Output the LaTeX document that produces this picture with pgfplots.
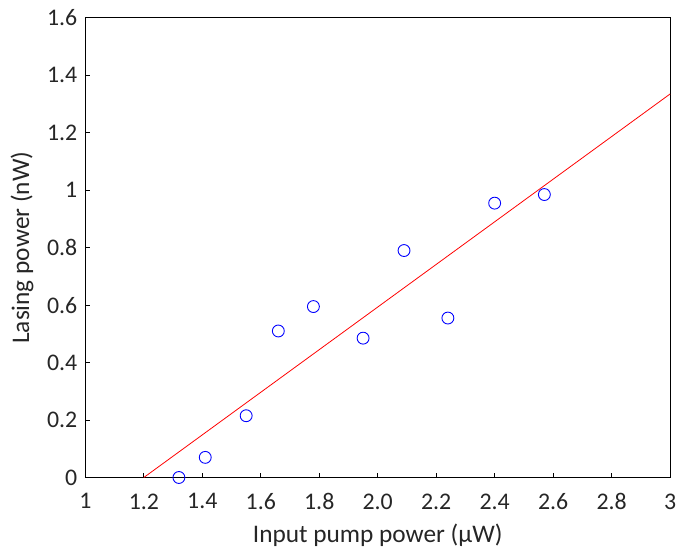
\documentclass[border=0pt]{standalone}
\usepackage{pgfplots}
\pgfplotsset{compat=1.18}
\usepackage{fontspec}
\setmainfont{Carlito}
\begin{document}
\begin{tikzpicture}
\useasboundingbox (-86bp,-77bp) rectangle (598bp,481bp);
\begin{axis}[
  at={(0,0)}, anchor=south west,
  width=589bp, height=463bp, scale only axis,
  xmin=1, xmax=3, ymin=0, ymax=1.6,
  xtick={1,1.2,1.4,1.6,1.8,2,2.2,2.4,2.6,2.8,3},
  xticklabels={1,1.2,1.4,1.6,1.8,2.0,2.2,2.4,2.6,2.8,3},
  ytick={0,0.2,0.4,0.6,0.8,1,1.2,1.4,1.6},
  yticklabels={0,0.2,0.4,0.6,0.8,1,1.2,1.4,1.6},
  tick align=inside, tick pos=left,
  major tick length=5bp,
  axis line style={line width=1pt},
  tick style={black, line width=0.8pt},
  xlabel={Input pump power (μW)},
  ylabel={Lasing power (nW)},
  every tick label/.append style={font=\fontsize{24bp}{28bp}\selectfont, text=black!85, inner sep=1bp},
  label style={font=\fontsize{25.5bp}{30bp}\selectfont, text=black!85, inner sep=1bp},
  yticklabel style={xshift=-7bp},
  xticklabel style={yshift=-15bp},
  xlabel style={yshift=-12bp},
  ylabel style={at={(axis description cs:0,0.5)}, anchor=south, yshift=51bp},
  clip=false,
]
\addplot[red, line width=0.8pt] coordinates {(1.2,0) (3,1.335)};
\addplot[only marks, mark=o, mark size=6bp, blue, mark options={line width=0.9pt}] coordinates {
(1.32,0.0) (1.41,0.07) (1.55,0.215) (1.66,0.51) (1.78,0.595)
(1.95,0.485) (2.09,0.79) (2.24,0.555) (2.40,0.955) (2.57,0.985)};
\end{axis}
\end{tikzpicture}
\end{document}
